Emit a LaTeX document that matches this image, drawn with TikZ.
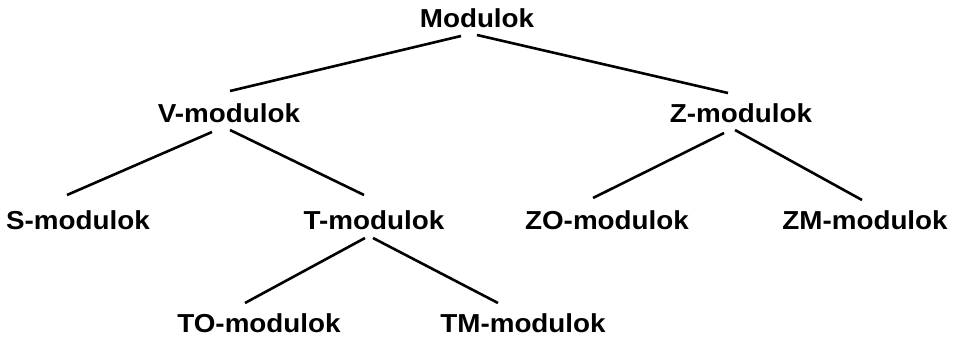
\documentclass[tikz,border=0pt]{standalone}
\usepackage{fontspec}
\setmainfont{Liberation Sans}
\begin{document}
\begin{tikzpicture}[x=1pt,y=1pt,
  lbl/.style={anchor=base,inner sep=0pt,xscale=1.07,font=\fontsize{26}{30}\selectfont\bfseries},
  edge/.style={line width=2.6pt}]
\useasboundingbox[fill=white] (0,0) rectangle (953,338);
\node[lbl] (M) at (477,310) {Modulok};
\node[lbl] (V) at (229,215) {V-modulok};
\node[lbl] (Z) at (741,215) {Z-modulok};
\node[lbl] (S) at (78,109) {S-modulok};
\node[lbl] (T) at (374,109) {T-modulok};
\node[lbl] (ZO) at (607,109) {ZO-modulok};
\node[lbl] (ZM) at (865,109) {ZM-modulok};
\node[lbl] (TO) at (259,6) {TO-modulok};
\node[lbl] (TM) at (523,6) {TM-modulok};
% connector end points
\coordinate (m1) at (461,302); \coordinate (v0) at (230,247);
\coordinate (m2) at (477,303); \coordinate (z0) at (728,245);
\coordinate (v1) at (212,206); \coordinate (s0) at (67,143);
\coordinate (v2) at (230,208); \coordinate (t0) at (364,143);
\coordinate (z1) at (724,205); \coordinate (zo0) at (593,140);
\coordinate (z2) at (735,208); \coordinate (zm0) at (862,138);
\coordinate (t1) at (365,100); \coordinate (to0) at (245,35);
\coordinate (t2) at (373,100); \coordinate (tm0) at (498,35);
\draw[edge] (m1) -- (v0);
\draw[edge] (m2) -- (z0);
\draw[edge] (v1) -- (s0);
\draw[edge] (v2) -- (t0);
\draw[edge] (z1) -- (zo0);
\draw[edge] (z2) -- (zm0);
\draw[edge] (t1) -- (to0);
\draw[edge] (t2) -- (tm0);
\end{tikzpicture}
\end{document}
